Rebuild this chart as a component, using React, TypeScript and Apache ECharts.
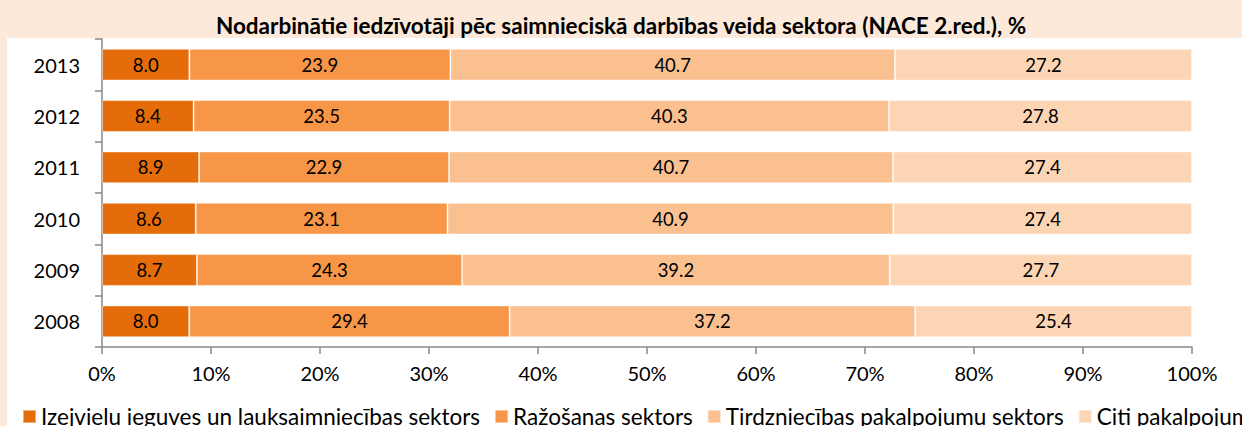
import React, { useEffect, useRef } from "react";
import * as echarts from "echarts";

const years = ["2008", "2009", "2010", "2011", "2012", "2013"];
const seriesNames = [
  "Izejvielu ieguves un lauksaimniecības sektors",
  "Ražošanas sektors",
  "Tirdzniecības pakalpojumu sektors",
  "Citi pakalpojumi",
];
const primary = [8.0, 8.7, 8.6, 8.9, 8.4, 8.0];
const production = [29.4, 24.3, 23.1, 22.9, 23.5, 23.9];
const trade = [37.2, 39.2, 40.9, 40.7, 40.3, 40.7];
const otherServices = [25.4, 27.7, 27.4, 27.4, 27.8, 27.2];
const xTicks = [0, 10, 20, 30, 40, 50, 60, 70, 80, 90, 100];

const colors = ["#E46C0A", "#F79646", "#FAC090", "#FCD5B5"];
const FONT = "Lato, 'Noto Sans', sans-serif";

export default function App() {
  const ref = useRef<HTMLDivElement>(null);
  useEffect(() => {
    if (!ref.current) return;
    const chart = echarts.init(ref.current, null, { renderer: "svg" });
    const raw = [primary, production, trade, otherServices];
    const totals = years.map((_, i) => raw.reduce((s, a) => s + a[i], 0));
    const series = raw.map((arr, si) => ({
      name: seriesNames[si],
      type: "bar",
      stack: "total",
      barCategoryGap: "38%",
      data: arr.map((v, i) => (v / totals[i]) * 100),
      itemStyle: {
        color: colors[si],
        borderColor: "rgba(255,255,255,0.45)",
        borderWidth: 1,
      },
      label: {
        show: true,
        position: "inside",
        color: "#000",
        fontFamily: FONT,
        fontSize: 18.5,
        formatter: (p: any) => arr[p.dataIndex].toFixed(1),
      },
    }));
    chart.setOption({
      animation: false,
      backgroundColor: "#FFFFFF",
      textStyle: { fontFamily: FONT },
      graphic: [
        { type: "rect", z: -10, silent: true, shape: { x: 0, y: 0, width: 1242, height: 38 }, style: { fill: "#FDE9D9" } },
        { type: "rect", z: -10, silent: true, shape: { x: 0, y: 0, width: 7, height: 426 }, style: { fill: "#FDE9D9" } },
      ],
      title: {
        text: "Nodarbinātie iedzīvotāji pēc saimnieciskā darbības veida sektora (NACE 2.red.), %",
        left: "center",
        top: 9,
        textStyle: { fontFamily: FONT, fontSize: 22.5, fontWeight: "bold", color: "#000" },
      },
      legend: {
        left: 22,
        top: 405,
        padding: 0,
        width: 1600,
        itemWidth: 13,
        itemHeight: 13,
        itemGap: 14,
        icon: "rect",
        textStyle: { fontFamily: FONT, fontSize: 22.5, color: "#000" },
        data: seriesNames,
      },
      grid: { left: 102, right: 50, top: 39, bottom: 79, containLabel: false },
      xAxis: {
        type: "value",
        min: 0,
        max: 100,
        interval: 10,
        axisLine: { show: true, lineStyle: { color: "#888", width: 1.5 } },
        axisTick: { show: true, length: 7, lineStyle: { color: "#888", width: 1.5 } },
        splitLine: { show: false },
        axisLabel: {
          margin: 16,
          fontFamily: FONT,
          fontSize: 20,
          color: "#000",
          formatter: (v: number) => (xTicks.includes(v) ? v + "%" : ""),
        },
      },
      yAxis: {
        type: "category",
        data: years,
        axisLine: { show: true, lineStyle: { color: "#888", width: 1.5 } },
        axisTick: { show: true, length: 7, lineStyle: { color: "#888", width: 1.5 } },
        axisLabel: { margin: 22, fontFamily: FONT, fontSize: 20, color: "#000" },
      },
      series,
    });
    return () => chart.dispose();
  }, []);
  return (
    <div
      ref={ref}
      style={{ position: "absolute", left: 0, top: 0, width: 1242, height: 426 }}
    />
  );
}
